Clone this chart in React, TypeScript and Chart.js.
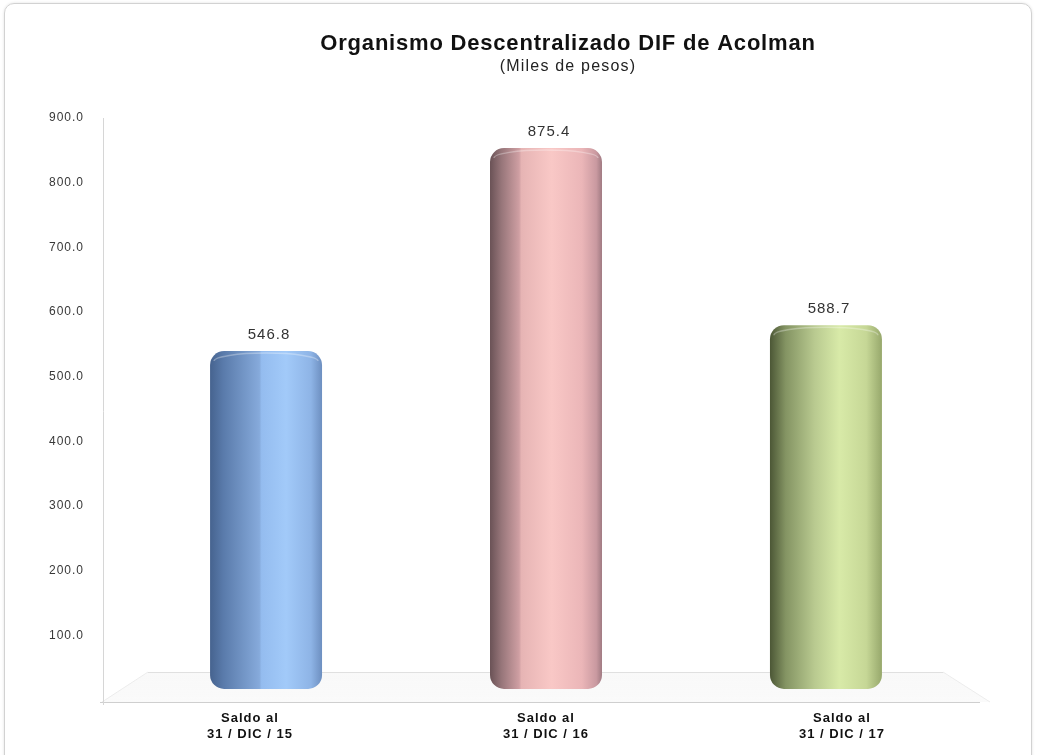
import React, { useEffect, useRef } from "react";
import { Chart, registerables } from "chart.js";

Chart.register(...registerables);

const TITLE = "Organismo Descentralizado DIF de Acolman";
const SUBTITLE = "(Miles de pesos)";
const categories: string[][] = [
  ["Saldo al", "31 / DIC / 15"],
  ["Saldo al", "31 / DIC / 16"],
  ["Saldo al", "31 / DIC / 17"],
];
const values: number[] = [546.8, 875.4, 588.7];
const tickMin = 0;
const tickMax = 900;
const tickStep = 100;

const barGradients: [number, string][][] = [
  [
    [0, "#46638f"],
    [0.12, "#5a7bab"],
    [0.44, "#86aadb"],
    [0.46, "#94bcef"],
    [0.68, "#a2caf9"],
    [0.9, "#8eb4e6"],
    [1, "#6d8fc0"],
  ],
  [
    [0, "#6a5256"],
    [0.1, "#967579"],
    [0.26, "#cf9fa3"],
    [0.28, "#e6b4b4"],
    [0.55, "#f9c8c6"],
    [0.82, "#ebb6b8"],
    [0.95, "#c999a0"],
    [1, "#a07a82"],
  ],
  [
    [0, "#4c5736"],
    [0.14, "#849463"],
    [0.4, "#b9ca90"],
    [0.62, "#d8eaa8"],
    [0.86, "#c6d796"],
    [1, "#97a86c"],
  ],
];
const solidColors = ["#8db3e8", "#f0bcbc", "#c8da98"];

const FONT = "'Liberation Sans', Arial, sans-serif";

const decorPlugin = {
  id: "decor",
  beforeDraw(chart: any) {
    chart.ctx.letterSpacing = "1px";
  },
  beforeDatasetsDraw(chart: any) {
    const { ctx, chartArea } = chart;
    const l = chartArea.left;
    const r = chartArea.right;
    const b = chartArea.bottom;
    ctx.save();
    // floor
    const front = b + 2;
    const back = b - 28;
    const grad = ctx.createLinearGradient(0, back, 0, front);
    grad.addColorStop(0, "rgba(245,245,245,0.6)");
    grad.addColorStop(1, "rgba(250,250,250,0.9)");
    ctx.beginPath();
    ctx.moveTo(l, front);
    ctx.lineTo(l + 46, back);
    ctx.lineTo(r - 47, back);
    ctx.lineTo(r, front);
    ctx.closePath();
    ctx.fillStyle = grad;
    ctx.fill();
    ctx.strokeStyle = "#e0e0e0";
    ctx.lineWidth = 1;
    ctx.beginPath();
    ctx.moveTo(l + 46, back + 0.5);
    ctx.lineTo(r - 47, back + 0.5);
    ctx.stroke();
    ctx.strokeStyle = "#ececec";
    ctx.beginPath();
    ctx.moveTo(l, front);
    ctx.lineTo(l + 46, back);
    ctx.moveTo(r, front);
    ctx.lineTo(r - 47, back);
    ctx.stroke();
    ctx.strokeStyle = "#cfcfcf";
    ctx.beginPath();
    ctx.moveTo(l - 2, front + 0.5);
    ctx.lineTo(r - 10, front + 0.5);
    ctx.stroke();
    // vertical axis line
    ctx.strokeStyle = "#d6d6d6";
    ctx.beginPath();
    ctx.moveTo(l + 1.5, chartArea.top);
    ctx.lineTo(l + 1.5, front + 3);
    ctx.stroke();
    ctx.restore();
    // cylinder gradients from the laid-out bar elements
    const meta = chart.getDatasetMeta(0);
    meta.data.forEach((el: any, i: number) => {
      const w = el.width;
      if (!Number.isFinite(el.x) || !Number.isFinite(w)) return;
      const g = ctx.createLinearGradient(el.x - w / 2, 0, el.x + w / 2, 0);
      barGradients[i].forEach(([o, col]) => g.addColorStop(o, col));
      el.options = { ...el.options, backgroundColor: g };
    });
  },
  afterDatasetsDraw(chart: any) {
    const { ctx } = chart;
    const meta = chart.getDatasetMeta(0);
    ctx.save();
    meta.data.forEach((el: any, i: number) => {
      const w = el.width;
      // cylinder top rim
      ctx.beginPath();
      ctx.ellipse(el.x, el.y + 10, w / 2 - 4, 8, 0, Math.PI, 2 * Math.PI);
      ctx.strokeStyle = "rgba(255,255,255,0.3)";
      ctx.lineWidth = 1.5;
      ctx.stroke();
      // value label
      ctx.letterSpacing = "1px";
      ctx.font = `15px ${FONT}`;
      ctx.fillStyle = "#333333";
      ctx.textAlign = "center";
      ctx.textBaseline = "middle";
      ctx.fillText(values[i].toFixed(1), el.x + 3, el.y - 16);
    });
    // titles
    const cx = 568;
    ctx.letterSpacing = "0.8px";
    ctx.font = `bold 22px ${FONT}`;
    ctx.fillStyle = "#111111";
    ctx.textAlign = "center";
    ctx.textBaseline = "middle";
    ctx.fillText(TITLE, cx, 44);
    ctx.letterSpacing = "1.2px";
    ctx.font = `16px ${FONT}`;
    ctx.fillStyle = "#222222";
    ctx.fillText(SUBTITLE, cx, 67);
    ctx.restore();
  },
};

export default function App() {
  const ref = useRef<HTMLCanvasElement | null>(null);
  useEffect(() => {
    if (!ref.current) return;
    const barScaleMin = -18;
    const barScaleMax = 924;
    const chart = new Chart(ref.current, {
      type: "bar",
      data: {
        labels: categories,
        datasets: [
          {
            label: "Saldo",
            data: values.map((v, i) => ({ x: i, y: v })),
            xAxisID: "xBar",
            yAxisID: "yBar",
            barPercentage: 0.4,
            categoryPercentage: 1,
            borderRadius: 14,
            borderSkipped: false,
            backgroundColor: solidColors,
          } as any,
        ],
      },
      options: {
        animation: false,
        responsive: true,
        maintainAspectRatio: false,
        layout: { padding: { top: 118, right: 60, bottom: 0, left: 0 } },
        plugins: {
          legend: { display: false },
          tooltip: { enabled: false },
          title: { display: false },
        },
        scales: {
          x: {
            type: "category",
            position: "bottom",
            offset: true,
            grid: { display: false, drawTicks: false, tickLength: 0 },
            border: { display: false },
            ticks: {
              padding: 10,
              color: "#111111",
              font: { family: FONT, size: 13, weight: "bold", lineHeight: 1.25 },
              maxRotation: 0,
              autoSkip: false,
            },
            afterFit: (s: any) => {
              s.height = 55;
            },
          },
          xBar: {
            type: "linear",
            display: false,
            min: -0.586,
            max: 2.586,
            offset: false,
            afterBuildTicks: (s: any) => {
              s.ticks = values.map((_, i) => ({ value: i }));
            },
          },
          y: {
            type: "linear",
            position: "left",
            min: tickMin,
            max: tickMax,
            grid: { display: false, drawTicks: false, tickLength: 0 },
            border: { display: false },
            ticks: {
              stepSize: tickStep,
              padding: 18,
              color: "#383838",
              font: { family: FONT, size: 12 },
              callback: (v: any) => (v === 0 ? "" : Number(v).toFixed(1)),
            },
            afterFit: (s: any) => {
              s.width = 102;
            },
          },
          yBar: {
            type: "linear",
            display: false,
            min: barScaleMin,
            max: barScaleMax,
          },
        },
      } as any,
      plugins: [decorPlugin],
    });
    return () => chart.destroy();
  }, []);

  return (
    <div style={{ position: "fixed", left: 0, top: 0, width: 1050, height: 755, background: "#ffffff", overflow: "hidden" }}>
      <div
        style={{
          position: "absolute",
          left: 4,
          top: 3,
          width: 1028,
          height: 800,
          border: "1px solid #d2d2d2",
          borderRadius: 10,
          boxShadow: "0 0 3px rgba(0,0,0,0.12)",
          boxSizing: "border-box",
        }}
      />
      <canvas ref={ref} style={{ position: "absolute", left: 0, top: 0 }} />
    </div>
  );
}
